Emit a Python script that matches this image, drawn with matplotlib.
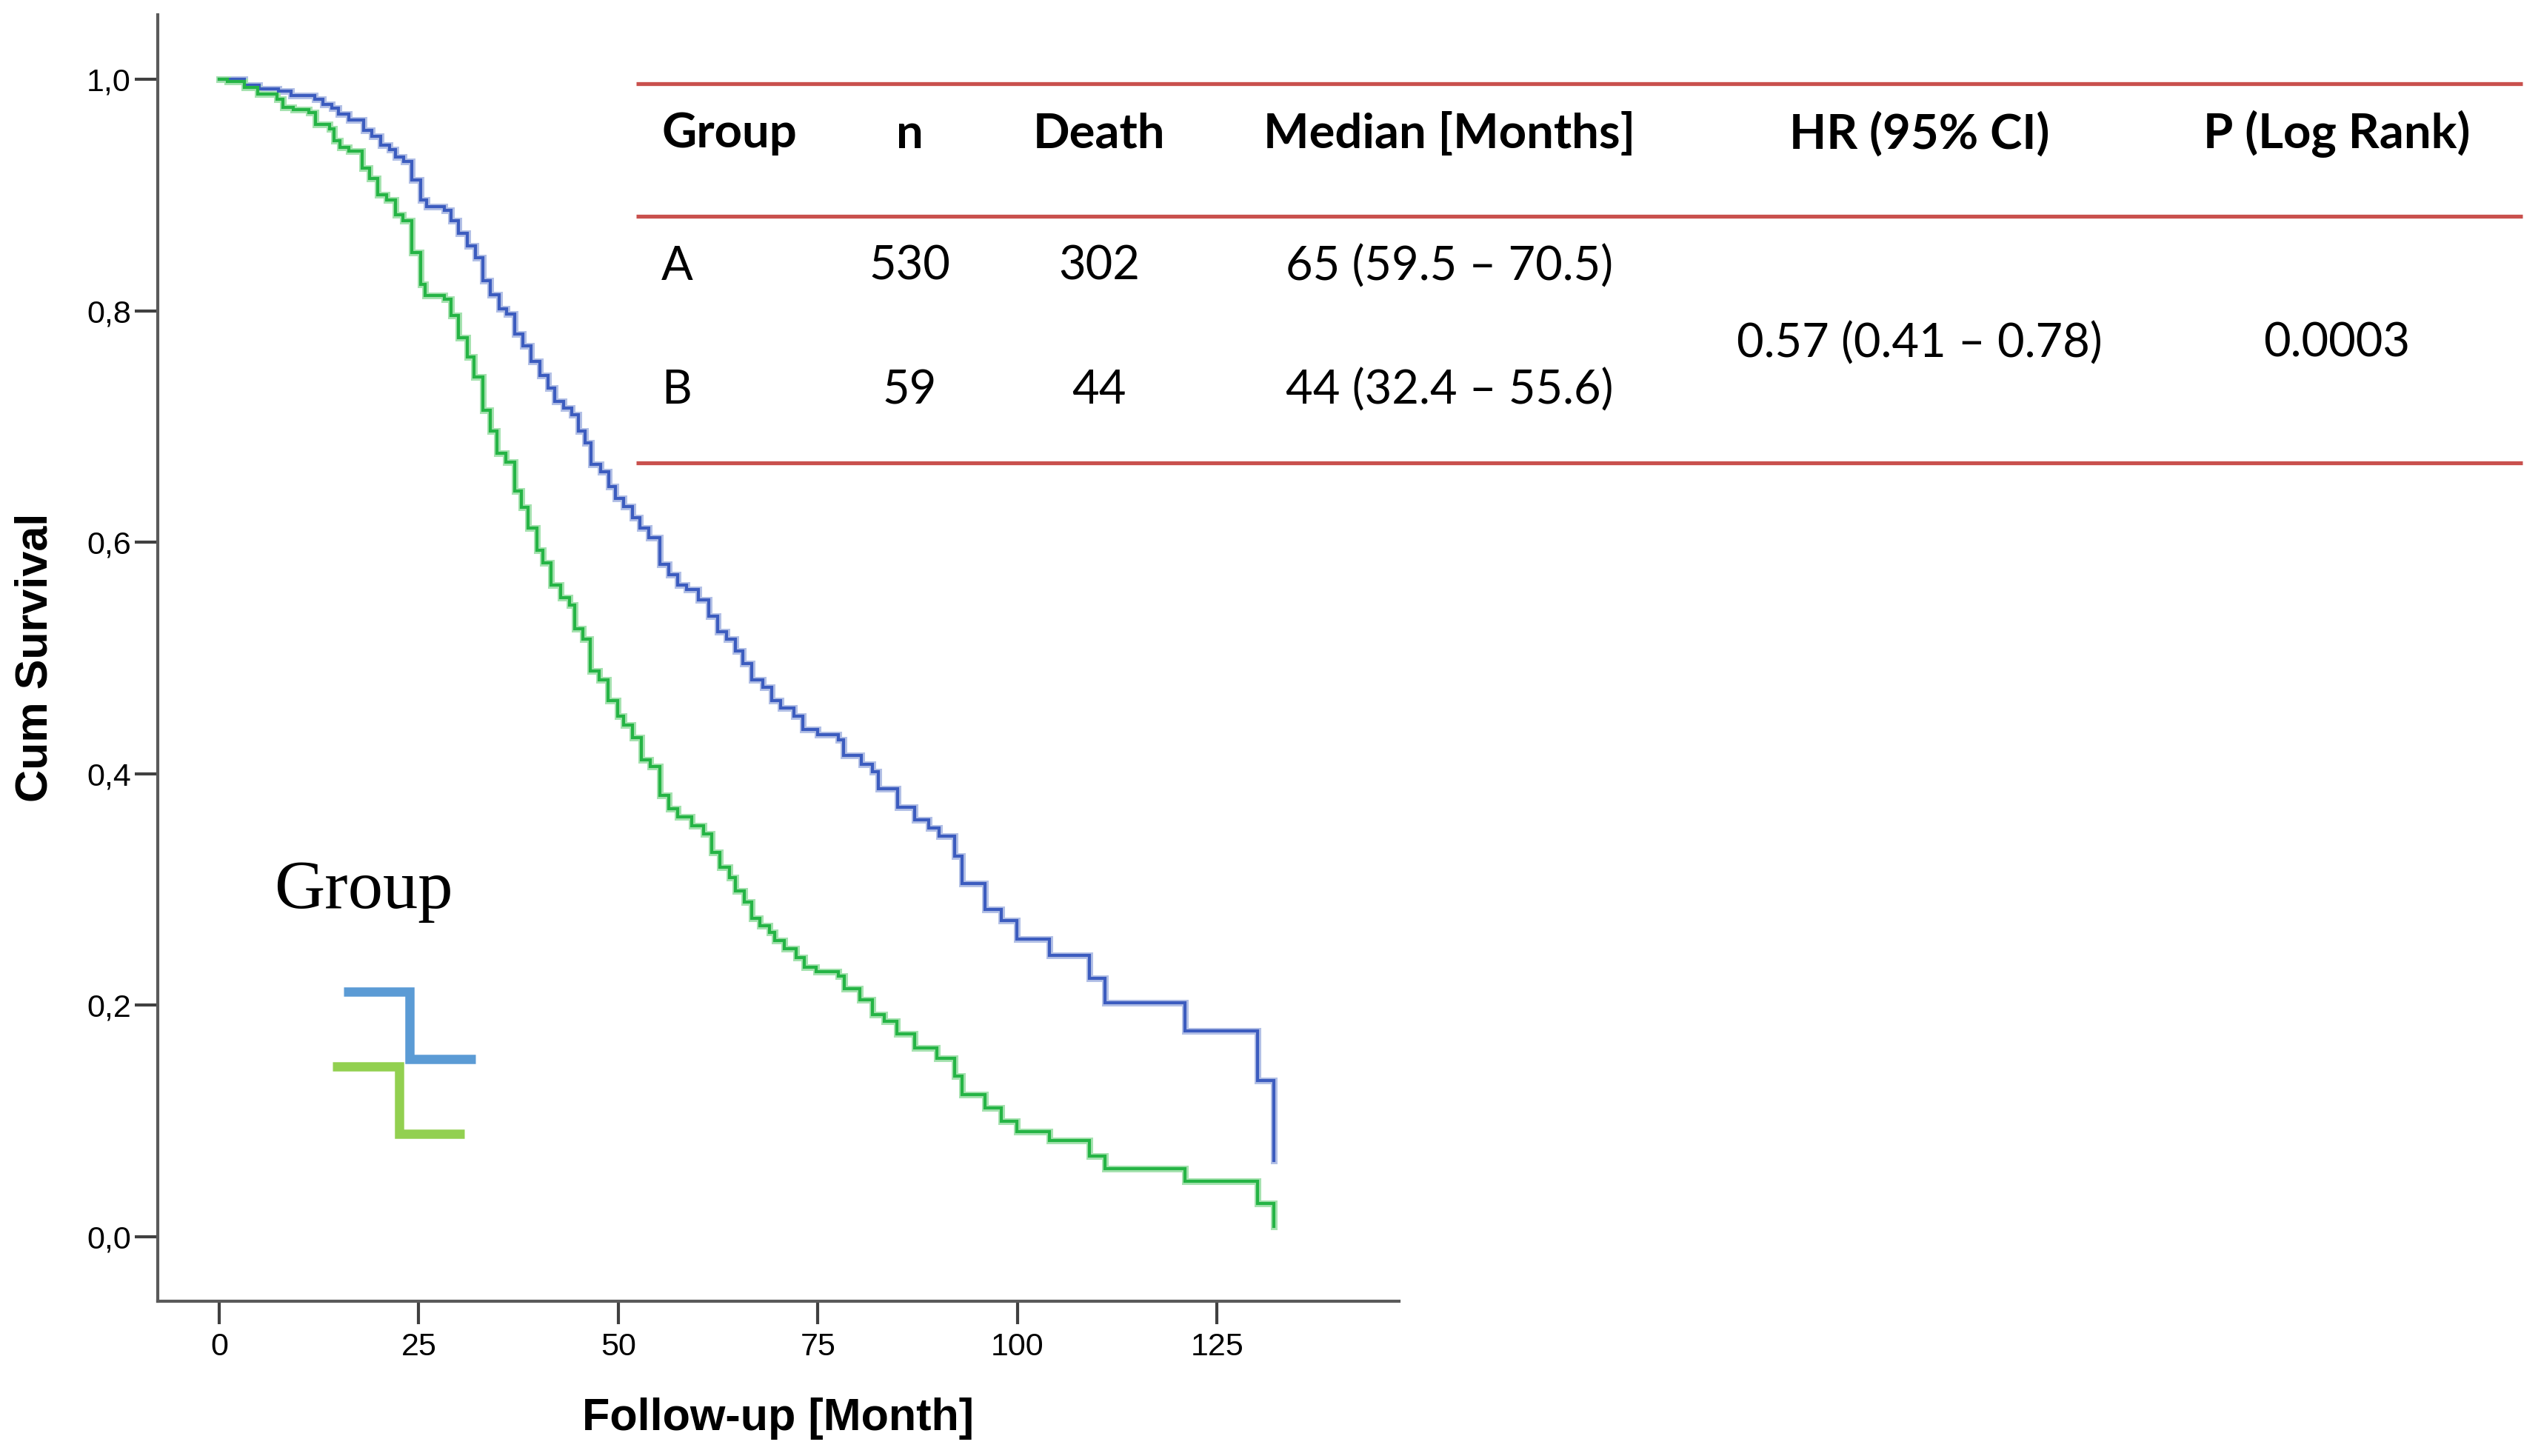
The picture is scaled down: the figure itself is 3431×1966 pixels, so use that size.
import matplotlib
matplotlib.use("Agg")
import matplotlib.pyplot as plt
from matplotlib.lines import Line2D

# ---------------- data ----------------
times_A = [0, 3.2, 5.0, 7.4, 9.0, 12.0, 13.0, 14.1, 14.9, 16.2, 18.1, 19.1, 20.2, 21.3, 22.1,
           23.1, 24.1, 25.2, 26.0, 28.2, 29.0, 30.0, 31.1, 32.1, 33.0, 34.0, 35.1, 36.0, 37.0,
           38.0, 39.1, 40.2, 41.2, 42.0, 43.1, 44.2, 45.0, 45.8, 46.6, 47.8, 48.8, 49.6, 50.7,
           51.8, 52.7, 53.8, 55.2, 56.3, 57.4, 58.5, 60.0, 61.3, 62.4, 63.6, 64.7, 65.6, 66.7,
           68.1, 69.2, 70.3, 72.0, 73.1, 75.0, 77.6, 78.2, 80.4, 81.8, 82.6, 85.0, 87.1, 88.9,
           90.2, 92.1, 93.1, 95.9, 98.0, 99.9, 104.0, 109.0, 111.0, 121.0, 130.1, 132.1]
surv_A = [1.0, 0.995, 0.992, 0.990, 0.986, 0.983, 0.978, 0.975, 0.970, 0.965, 0.956, 0.951, 0.943,
          0.939, 0.933, 0.929, 0.913, 0.896, 0.890, 0.887, 0.878, 0.867, 0.856, 0.846, 0.826,
          0.814, 0.802, 0.797, 0.780, 0.770, 0.756, 0.744, 0.733, 0.722, 0.716, 0.710, 0.696,
          0.686, 0.667, 0.661, 0.648, 0.638, 0.631, 0.621, 0.612, 0.604, 0.581, 0.572, 0.563,
          0.559, 0.550, 0.536, 0.523, 0.516, 0.506, 0.495, 0.481, 0.475, 0.463, 0.457, 0.450,
          0.438, 0.434, 0.429, 0.416, 0.408, 0.402, 0.387, 0.371, 0.360, 0.353, 0.346, 0.329,
          0.305, 0.283, 0.273, 0.257, 0.243, 0.223, 0.202, 0.178, 0.135, 0.066]

times_B = [0, 1.0, 3.2, 4.8, 7.2, 8.0, 9.3, 11.2, 12.1, 13.8, 14.4, 15.1, 16.2, 17.9, 18.8, 19.9,
           21.0, 22.1, 23.0, 24.1, 25.2, 25.8, 28.2, 29.0, 30.0, 31.1, 31.9, 33.0, 34.0, 34.8,
           35.9, 37.0, 37.9, 38.7, 39.8, 40.5, 41.6, 42.8, 43.9, 44.5, 45.6, 46.5, 47.6, 48.7,
           49.9, 50.7, 51.8, 52.9, 54.0, 55.2, 56.3, 57.4, 59.2, 60.7, 61.7, 62.7, 63.9, 64.7,
           65.8, 66.7, 67.7, 68.9, 69.6, 70.8, 72.3, 73.3, 74.8, 77.6, 78.3, 80.3, 81.8, 83.3,
           84.9, 87.1, 89.9, 92.1, 93.1, 95.9, 98.0, 99.9, 104.0, 109.0, 111.0, 121.0, 130.1, 132.1]
surv_B = [1.0, 0.998, 0.993, 0.987, 0.983, 0.976, 0.974, 0.971, 0.961, 0.957, 0.947, 0.941, 0.938,
          0.923, 0.914, 0.900, 0.896, 0.883, 0.878, 0.850, 0.823, 0.813, 0.810, 0.796, 0.777,
          0.760, 0.743, 0.714, 0.696, 0.677, 0.669, 0.644, 0.630, 0.612, 0.593, 0.582, 0.563,
          0.552, 0.546, 0.525, 0.516, 0.489, 0.481, 0.463, 0.450, 0.442, 0.431, 0.412, 0.406,
          0.381, 0.370, 0.363, 0.355, 0.348, 0.332, 0.319, 0.310, 0.299, 0.289, 0.275, 0.269,
          0.263, 0.256, 0.249, 0.241, 0.233, 0.229, 0.225, 0.214, 0.205, 0.192, 0.186, 0.175,
          0.163, 0.154, 0.139, 0.123, 0.111, 0.100, 0.091, 0.083, 0.070, 0.059, 0.048, 0.029,
          0.009]

x_ticks = [0, 25, 50, 75, 100, 125]
y_ticks = [0.0, 0.2, 0.4, 0.6, 0.8, 1.0]
y_ticklabels = ["0,0", "0,2", "0,4", "0,6", "0,8", "1,0"]

table_headers = ["Group", "n", "Death", "Median [Months]", "HR (95% CI)", "P (Log Rank)"]
row_A = ["A", "530", "302", "65 (59.5 \u2013 70.5)"]
row_B = ["B", "59", "44", "44 (32.4 \u2013 55.6)"]
hr_text = "0.57 (0.41 \u2013 0.78)"
p_text = "0.0003"

# ---------------- figure ----------------
W, H = 3431, 1966
DPI = 100
fig = plt.figure(figsize=(W / DPI, H / DPI), dpi=DPI)
fig.patch.set_facecolor("white")

def fx(px):
    return px / W

def fy(py):
    return 1 - py / H

ax_left, ax_right, ax_top, ax_bot = 213, 1889, 20, 1757
ax = fig.add_axes([fx(ax_left), fy(ax_bot), (ax_right - ax_left) / W, (ax_bot - ax_top) / H])
ax.set_xlim(-7.7, 147.8)
ax.set_ylim(-0.0557, 1.0557)

for sp in ["top", "right"]:
    ax.spines[sp].set_visible(False)
for sp in ["left", "bottom"]:
    ax.spines[sp].set_color("#5a5a5a")
    ax.spines[sp].set_linewidth(3.0)

ax.set_xticks(x_ticks)
ax.set_xticklabels([str(v) for v in x_ticks])
ax.set_yticks(y_ticks)
ax.set_yticklabels(y_ticklabels)
tick_font = "Liberation Sans"
ax.tick_params(axis="x", direction="out", length=22, width=3, color="#404040", pad=8,
               labelsize=31)
ax.tick_params(axis="y", direction="out", length=22, width=3, color="#404040", pad=4,
               labelsize=31)
for lab in ax.get_xticklabels() + ax.get_yticklabels():
    lab.set_fontfamily(tick_font)

# curves: light halo + main line
blue_main, blue_halo = "#3c5cbf", "#b3c0e6"
green_main, green_halo = "#25b445", "#a6e2b0"
ax.step(times_A, surv_A, where="post", color=blue_halo, lw=6.5, solid_joinstyle="miter", zorder=2)
ax.step(times_B, surv_B, where="post", color=green_halo, lw=6.5, solid_joinstyle="miter", zorder=2)
ax.step(times_A, surv_A, where="post", color=blue_main, lw=3.0, solid_joinstyle="miter", zorder=3)
ax.step(times_B, surv_B, where="post", color=green_main, lw=3.0, solid_joinstyle="miter", zorder=3)

# axis labels
fig.text(fx(48), fy(888), "Cum Survival", rotation=90, ha="center", va="center",
         fontsize=44, fontweight="bold", family="Liberation Sans")
fig.text(fx(1051), fy(1915), "Follow-up [Month]", ha="center", va="center",
         fontsize=44, fontweight="bold", family="Liberation Sans")

# legend "Group"
fig.text(fx(370), fy(1226), "Group", ha="left", va="baseline", fontsize=68,
         family="Liberation Serif")
leg_lw = 12.5 * 72 / DPI
fig.add_artist(Line2D([fx(464), fx(553), fx(553), fx(642)],
                      [fy(1338.5), fy(1338.5), fy(1429.5), fy(1429.5)],
                      color="#5b9bd5", lw=leg_lw, solid_joinstyle="miter",
                      solid_capstyle="butt", transform=fig.transFigure))
fig.add_artist(Line2D([fx(449), fx(538.5), fx(538.5), fx(627)],
                      [fy(1439.5), fy(1439.5), fy(1530.5), fy(1530.5)],
                      color="#92d050", lw=leg_lw, solid_joinstyle="miter",
                      solid_capstyle="butt", transform=fig.transFigure))

# table
red = "#c9504d"
for yy in [113, 292, 625]:
    fig.add_artist(Line2D([fx(859), fx(3406)], [fy(yy), fy(yy)], color=red, lw=3.8,
                          transform=fig.transFigure, solid_capstyle="butt"))

tab_font = "Lato"
col_x = [893, 1228, 1484, 1957, 2592, 3155]
col_ha = ["left", "center", "center", "center", "center", "center"]
for txt, xx, ha in zip(table_headers, col_x, col_ha):
    fig.text(fx(xx), fy(181), txt, ha=ha, va="center", fontsize=47, fontweight="bold",
             family=tab_font)
for row, yy in [(row_A, 360), (row_B, 527)]:
    for txt, xx, ha in zip(row, col_x[:4], col_ha[:4]):
        fig.text(fx(xx), fy(yy), txt, ha=ha, va="center", fontsize=45.5, family=tab_font)
fig.text(fx(col_x[4]), fy(464), hr_text, ha="center", va="center", fontsize=45.5, family=tab_font)
fig.text(fx(col_x[5]), fy(464), p_text, ha="center", va="center", fontsize=45.5, family=tab_font)

fig.savefig("out.png", dpi=DPI, facecolor="white")
